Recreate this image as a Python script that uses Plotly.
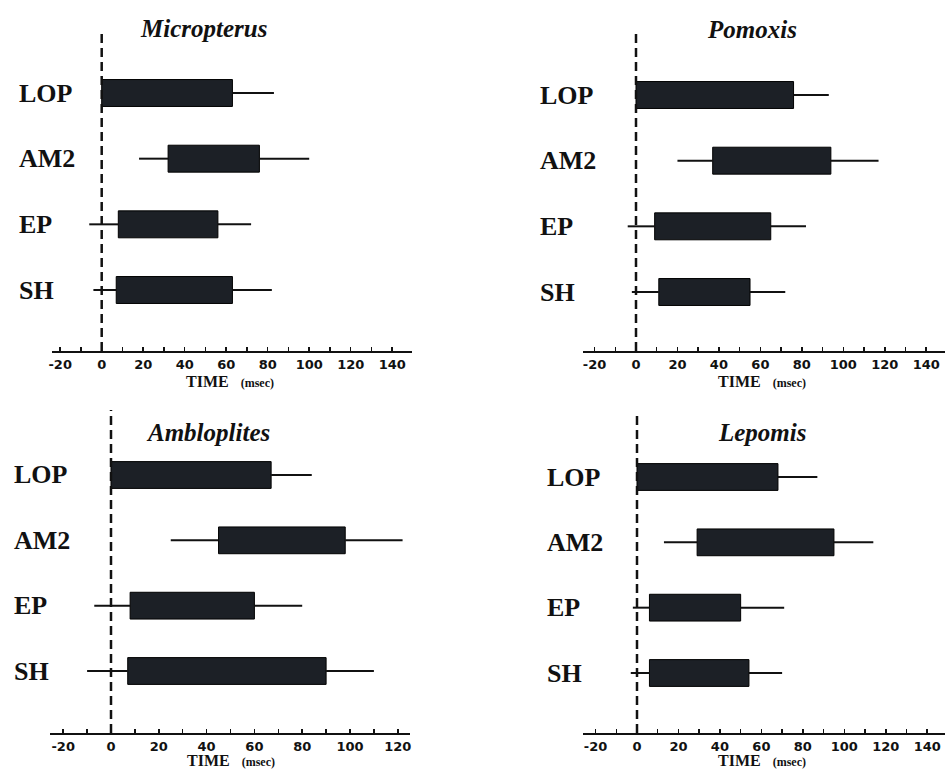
import plotly.graph_objects as go

# ---------------- data (msec) ----------------
categories = ["LOP", "AM2", "EP", "SH"]
genera = ["Micropterus", "Pomoxis", "Ambloplites", "Lepomis"]

# onset/offset of bar (mean) and whisker extents (SD)
micropterus_lo     = [0, 18, -6, -4]
micropterus_onset  = [0, 32, 8, 7]
micropterus_offset = [63, 76, 56, 63]
micropterus_hi     = [83, 100, 72, 82]

pomoxis_lo     = [0, 20, -4, -2]
pomoxis_onset  = [0, 37, 9, 11]
pomoxis_offset = [76, 94, 65, 55]
pomoxis_hi     = [93, 117, 82, 72]

ambloplites_lo     = [0, 25, -7, -10]
ambloplites_onset  = [0, 45, 8, 7]
ambloplites_offset = [67, 98, 60, 90]
ambloplites_hi     = [84, 122, 80, 110]

lepomis_lo     = [0, 13, -2, -3]
lepomis_onset  = [0, 29, 6, 6]
lepomis_offset = [68, 95, 50, 54]
lepomis_hi     = [87, 114, 71, 70]

tick_vals_wide = [-20, 0, 20, 40, 60, 80, 100, 120, 140]
tick_vals_narrow = [-20, 0, 20, 40, 60, 80, 100, 120]
axis_title = "TIME"
axis_unit = "(msec)"

series = [
    (micropterus_lo, micropterus_onset, micropterus_offset, micropterus_hi, tick_vals_wide),
    (pomoxis_lo, pomoxis_onset, pomoxis_offset, pomoxis_hi, tick_vals_wide),
    (ambloplites_lo, ambloplites_onset, ambloplites_offset, ambloplites_hi, tick_vals_narrow),
    (lepomis_lo, lepomis_onset, lepomis_offset, lepomis_hi, tick_vals_wide),
]

# ---------------- layout geometry (window pixels) ----------------
W, H = 945, 773
panels = [
    dict(zero=101.7, ppu=2.075, xl=52, xr=412, ay=351, top=32, lop=93, sh=290,
         lab=17, tx=203, ty=28, ttx=230, tty=382),
    dict(zero=636.0, ppu=2.073, xl=583, xr=945, ay=351, top=32, lop=95, sh=292,
         lab=538, tx=752, ty=30, ttx=762, tty=382),
    dict(zero=111.0, ppu=2.39, xl=50, xr=410, ay=733, top=410, lop=475, sh=671,
         lab=12, tx=208, ty=432, ttx=231, tty=760),
    dict(zero=637.0, ppu=2.073, xl=583, xr=945, ay=733, top=413, lop=477, sh=673,
         lab=545, tx=762, ty=432, ttx=762, tty=760),
]


def px_x(v):
    return v / W


def px_y(v):
    return 1 - v / H


BAR_COLOR = "#1c2026"
ypos = [4, 3, 2, 1]

fig = go.Figure()
layout = dict(
    width=W, height=H, margin=dict(l=0, r=0, t=0, b=0, autoexpand=False),
    paper_bgcolor="white", plot_bgcolor="white", showlegend=False,
    bargap=0,
)
annotations = []

for i, (p, (lo, on, off, hi, tv)) in enumerate(zip(panels, series)):
    n = "" if i == 0 else str(i + 1)
    xa, ya = "x" + n, "y" + n
    s = (p["sh"] - p["lop"]) / 3.0
    y_bottom = 1 - (p["ay"] - p["sh"]) / s
    y_top = 4 + (p["lop"] - p["top"]) / s
    x_min = (p["xl"] - p["zero"]) / p["ppu"]
    x_max = (p["xr"] - p["zero"]) / p["ppu"]

    # whiskers
    wx, wy = [], []
    for k in range(4):
        if lo[k] < on[k]:
            wx += [lo[k], on[k], None]
            wy += [ypos[k], ypos[k], None]
        wx += [off[k], hi[k], None]
        wy += [ypos[k], ypos[k], None]
    fig.add_trace(go.Scatter(x=wx, y=wy, mode="lines",
                             line=dict(color="#111", width=2),
                             xaxis=xa, yaxis=ya, hoverinfo="skip"))
    # bars
    fig.add_trace(go.Bar(
        y=ypos, x=[b - a for a, b in zip(on, off)], base=on,
        orientation="h", width=0.41,
        marker=dict(color=BAR_COLOR, line=dict(color="#000", width=1)),
        xaxis=xa, yaxis=ya,
    ))
    # dashed zero line
    fig.add_trace(go.Scatter(x=[0, 0], y=[y_bottom, y_top], mode="lines",
                             line=dict(color="#111", width=2.5, dash="9px,5px"),
                             xaxis=xa, yaxis=ya, hoverinfo="skip"))

    layout["xaxis" + n] = dict(
        domain=[px_x(p["xl"]), min(1.0, px_x(p["xr"]))], range=[x_min, x_max],
        anchor=ya, showgrid=False, zeroline=False, automargin=False,
        showline=True, linecolor="#111", linewidth=2,
        tickvals=tv, ticktext=[str(v) for v in tv],
        ticks="inside", ticklen=4, tickwidth=1.5, tickcolor="#111",
        minor=dict(ticks="inside", dtick=10, tick0=0, ticklen=4, tickwidth=1.5, tickcolor="#111"),
        tickfont=dict(family="DejaVu Sans", size=13, color="#111", weight="bold"),
        ticklabeloverflow="allow",
        fixedrange=True,
    )
    layout["yaxis" + n] = dict(
        domain=[px_y(p["ay"]), px_y(p["top"])], range=[y_bottom, y_top],
        anchor=xa, showgrid=False, zeroline=False, showline=False, automargin=False,
        showticklabels=False, ticks="", fixedrange=True,
    )
    # category labels
    for k, c in enumerate(categories):
        annotations.append(dict(
            x=px_x(p["lab"]), xref="paper", xanchor="left",
            y=ypos[k], yref=ya, yanchor="middle",
            text=c, showarrow=False,
            font=dict(family="Liberation Serif", size=26, color="#111", weight="bold"),
        ))
    # panel title
    annotations.append(dict(
        x=px_x(p["tx"]), xref="paper", xanchor="center",
        y=px_y(p["ty"]), yref="paper", yanchor="middle",
        text="<i>" + genera[i] + "</i>", showarrow=False,
        font=dict(family="Liberation Serif", size=25, color="#111", weight="bold"),
    ))
    # axis title
    annotations.append(dict(
        x=px_x(p["ttx"]), xref="paper", xanchor="center",
        y=px_y(p["tty"]), yref="paper", yanchor="middle",
        text=axis_title + "&nbsp;&nbsp;&nbsp;<span style='font-size:12px'>" + axis_unit + "</span>",
        showarrow=False,
        font=dict(family="Liberation Serif", size=16, color="#111", weight="bold"),
    ))

layout["annotations"] = annotations
fig.update_layout(**layout)
fig.write_html(
    "out.html",
    config={"displayModeBar": False, "staticPlot": True},
    post_script="document.body.style.margin='0';document.body.style.overflow='hidden';",
)
